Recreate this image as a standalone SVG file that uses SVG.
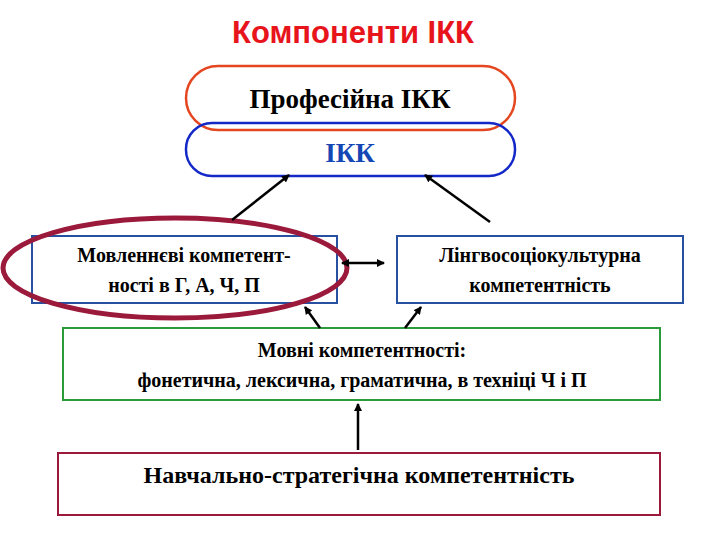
<svg xmlns="http://www.w3.org/2000/svg" width="720" height="540" viewBox="0 0 720 540">
<style>
text{font-family:'Liberation Serif','Times New Roman',serif}
.t{font-weight:bold;fill:#000;text-anchor:middle}
.c{stroke:#000;stroke-width:2.5;fill:none;marker-end:url(#a)}
</style>
<defs><marker id="a" markerWidth="8" markerHeight="8" refX="7" refY="4" orient="auto" markerUnits="userSpaceOnUse"><path d="M0,0L8,4L0,8z" fill="#000"/></marker>
<marker id="b" markerWidth="8" markerHeight="8" refX="1" refY="4" orient="auto" markerUnits="userSpaceOnUse"><path d="M8,0L0,4L8,8z" fill="#000"/></marker></defs>
<rect width="720" height="540" fill="#fff"/>
<text x="353" y="43" style="font-family:'Liberation Sans',Arial,sans-serif" font-weight="bold" font-size="31" fill="#e8141b" text-anchor="middle">Компоненти ІКК</text>
<g id="prof"><rect x="186" y="66" width="329" height="64" rx="32" fill="#fff" stroke="#e4461f" stroke-width="2.5"/><text class="t" x="350" y="108" font-size="27">Професійна ІКК</text></g>
<g id="ikk"><rect x="186" y="123" width="329" height="53" rx="26" fill="none" stroke="#1428c8" stroke-width="2.5"/><text class="t" x="350" y="162" font-size="27" style="fill:#1446b4">ІКК</text></g>
<g id="mov"><rect x="32" y="236" width="305" height="67" fill="#fff" stroke="#2850a0" stroke-width="2"/><text class="t" x="184" y="262" font-size="20">Мовленнєві компетент-</text><text class="t" x="184" y="292" font-size="20">ності в Г, А, Ч, П</text><ellipse cx="175" cy="268" rx="172" ry="50" fill="none" stroke="#9b1a3c" stroke-width="5"/></g>
<g id="ling"><rect x="397" y="236" width="286" height="67" fill="#fff" stroke="#2850a0" stroke-width="2"/><text class="t" x="540" y="262" font-size="20">Лінгвосоціокультурна</text><text class="t" x="540" y="292" font-size="20">компетентність</text></g>
<g id="movni"><rect x="63" y="328" width="597" height="72" fill="#fff" stroke="#2a9a3a" stroke-width="2"/><text class="t" x="362" y="357" font-size="20">Мовні компетентності:</text><text class="t" x="362" y="387" font-size="20">фонетична, лексична, граматична, в техніці Ч і П</text></g>
<g id="navch"><rect x="58" y="453" width="602" height="62" fill="#fff" stroke="#9b1a3c" stroke-width="2"/><text class="t" x="359" y="483" font-size="24">Навчально-стратегічна компетентність</text></g>
<g id="connectors">
<line class="c" x1="232" y1="220" x2="289" y2="175"/>
<line class="c" x1="490" y1="222" x2="425" y2="175"/>
<line class="c" x1="342" y1="263" x2="384" y2="263" marker-start="url(#b)"/>
<line class="c" x1="320" y1="328" x2="305" y2="307"/>
<line class="c" x1="405" y1="328" x2="421" y2="307"/>
<line class="c" x1="358" y1="450" x2="358" y2="404"/>
</g>
</svg>
